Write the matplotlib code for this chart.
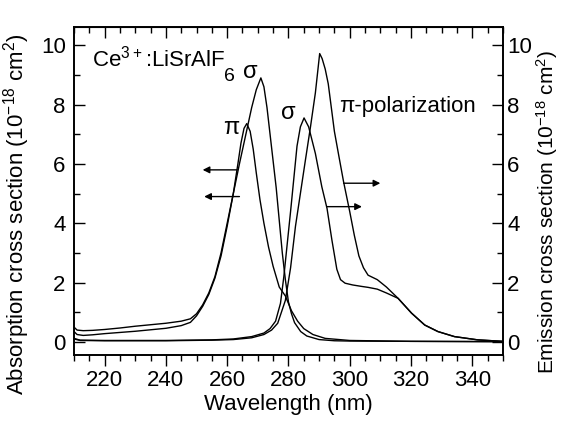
#Ce3+:LiSrAlF6 - secciones eficaces de absorcion y emision
import matplotlib.pyplot as plt
from matplotlib.ticker import MultipleLocator

plt.rcParams['font.family'] = ['Liberation Sans', 'DejaVu Sans']

## absorcion, sigma
abs_s_x = [210, 211, 213, 216, 220, 225, 230, 235, 240, 245, 248, 250, 252, 254, 256, 258,
           260, 262, 264, 266, 268, 269.5, 271, 272, 273, 274, 275, 276, 277, 278, 279, 280,
           281, 282, 284, 286, 290, 295, 300, 320, 350]
abs_s_y = [0.5, 0.4, 0.38, 0.39, 0.42, 0.47, 0.53, 0.58, 0.63, 0.7, 0.78, 0.95, 1.25, 1.65, 2.2, 3.0,
           4.0, 5.0, 6.0, 6.95, 7.9, 8.5, 8.9, 8.6, 7.9, 7.0, 6.1, 5.2, 4.1, 3.0, 2.1, 1.35,
           0.95, 0.65, 0.35, 0.2, 0.08, 0.04, 0.03, 0.02, 0.01]

## absorcion, pi
abs_p_x = [210, 211, 213, 216, 220, 225, 230, 235, 240, 245, 248, 250, 252, 254, 256, 258,
           260, 262, 263.5, 264.5, 265.5, 266.4, 267.5, 268.5, 269.5, 270.7, 272, 273.5, 275,
           277, 279, 280, 281, 283, 285, 288, 292, 300, 320, 350]
abs_p_y = [0.35, 0.25, 0.22, 0.24, 0.28, 0.32, 0.36, 0.41, 0.46, 0.55, 0.66, 0.88, 1.2, 1.6, 2.15, 2.9,
           3.9, 5.0, 6.0, 6.7, 7.2, 7.36, 7.1, 6.5, 5.7, 4.8, 4.0, 3.2, 2.55,
           1.85, 1.55, 1.3, 1.05, 0.7, 0.45, 0.25, 0.12, 0.05, 0.02, 0.01]

## emision, sigma
em_s_x = [210, 212, 220, 240, 255, 262, 268, 272, 274, 275.8, 277.4, 278.5, 279.6, 280.7,
          281.8, 282.8, 283.9, 285.1, 286.6, 288.8, 290.9, 292.6, 294.2, 295.8, 297, 298.5,
          301, 304, 306, 309, 312, 315.8, 320.2, 324.5, 328.8, 334.2, 341.8, 350]
em_s_y = [0.12, 0.06, 0.05, 0.05, 0.07, 0.1, 0.18, 0.3, 0.45, 0.7, 1.3, 2.2, 3.3, 4.4,
          5.55, 6.6, 7.25, 7.55, 7.25, 6.35, 5.23, 4.5, 3.43, 2.45, 2.1, 1.98,
          1.92, 1.87, 1.84, 1.78, 1.65, 1.47, 0.97, 0.57, 0.35, 0.18, 0.07, 0.02]

## emision, pi
em_p_x = [210, 212, 220, 240, 255, 262, 268, 272, 274.5, 276.5, 279, 280.7, 282.3, 283.9,
          285.5, 287.2, 288.8, 290.2, 291, 292, 293, 294, 295, 296.4, 298, 300, 301.5, 303,
          304.5, 306, 309, 312, 315.8, 320.2, 324.5, 328.8, 334.2, 341.8, 350]
em_p_y = [0.1, 0.05, 0.04, 0.04, 0.06, 0.08, 0.14, 0.25, 0.4, 0.63, 1.4, 2.5, 3.9, 5.0,
          6.1, 7.25, 8.4, 9.72, 9.55, 9.2, 8.7, 7.9, 7.1, 6.3, 5.4, 4.4, 3.6, 2.9,
          2.5, 2.25, 2.1, 1.85, 1.47, 0.97, 0.57, 0.35, 0.18, 0.07, 0.02]

xticks = [220, 240, 260, 280, 300, 320, 340]
yticks = [0, 2, 4, 6, 8, 10]

fig = plt.figure(figsize=(5.65, 4.29), dpi=100)
ax = fig.add_axes([0.131, 0.1725, 0.759, 0.7635])

lw = 1.0
ax.plot(abs_s_x, abs_s_y, color='black', lw=lw)
ax.plot(abs_p_x, abs_p_y, color='black', lw=lw)
ax.plot(em_s_x, em_s_y, color='black', lw=lw)
ax.plot(em_p_x, em_p_y, color='black', lw=lw)

fs = 16
ax.set_xlim(210, 350)
ax.set_ylim(-0.44, 10.6)
ax.set_xticks(xticks)
ax.set_yticks(yticks)
ax.xaxis.set_minor_locator(MultipleLocator(5))
ax.yaxis.set_minor_locator(MultipleLocator(1))
ax.tick_params(axis='x', which='both', direction='out', top=False, labelsize=fs, pad=3)
ax.tick_params(axis='x', which='major', length=8, width=1)
ax.tick_params(axis='x', which='minor', length=4, width=1)
ax.tick_params(axis='y', which='both', direction='in', labelsize=fs, pad=6)
ax.tick_params(axis='y', which='major', length=8, width=1)
ax.tick_params(axis='y', which='minor', length=4, width=1)

# ticks de arriba hacia dentro
top = ax.secondary_xaxis('top')
top.set_xticks(xticks)
top.xaxis.set_minor_locator(MultipleLocator(5))
top.tick_params(axis='x', which='both', direction='in', labeltop=False)
top.tick_params(axis='x', which='major', length=8, width=1)
top.tick_params(axis='x', which='minor', length=4, width=1)

ax2 = ax.twinx()
ax2.set_ylim(-0.44, 10.6)
ax2.set_yticks(yticks)
ax2.yaxis.set_minor_locator(MultipleLocator(1))
ax2.tick_params(axis='y', which='both', direction='in', labelsize=fs, pad=3)
ax2.tick_params(axis='y', which='major', length=8, width=1)
ax2.tick_params(axis='y', which='minor', length=4, width=1)

for a in (ax, ax2):
    for s in a.spines.values():
        s.set_linewidth(1.2)

ax.set_xlabel('Wavelength (nm)', fontsize=fs, labelpad=2)
ax.set_ylabel(r'Absorption cross section (10$\mathregular{^{-18}}$ cm$\mathregular{^2}$)', fontsize=16)
ax2.set_ylabel(r'Emission cross section (10$\mathregular{^{-18}}$ cm$\mathregular{^2}$)', fontsize=15)
ax.yaxis.set_label_coords(-0.097, 0.43)
ax2.yaxis.set_label_coords(1.074, 0.435)

# etiquetas
ax.text(215.8, 9.55, r'Ce$\mathregular{^{3+}}$:LiSrAlF', fontsize=fs, va='center', ha='left')
ax.text(260.6, 8.95, '6', fontsize=14, va='center', ha='center')
ax.text(267.6, 9.1, 'σ', fontsize=17, va='center', ha='center')
ax.text(261.4, 7.2, 'π', fontsize=17, va='center', ha='center')
ax.text(280.1, 7.7, 'σ', fontsize=17, va='center', ha='center')
ax.text(296.6, 7.95, 'π-polarization', fontsize=fs, va='center', ha='left')

# flechas
arrows = [((263.4, 5.8), (252.0, 5.8)),
          ((264.0, 4.9), (252.5, 4.9)),
          ((298.0, 5.35), (310.0, 5.35)),
          ((292.6, 4.56), (304.0, 4.56))]
for start, end in arrows:
    ax.annotate('', xy=end, xytext=start,
                arrowprops=dict(arrowstyle='-|>', color='black', lw=1.0, mutation_scale=10,
                                shrinkA=0, shrinkB=0))

fig.savefig('out.png', dpi=100)
